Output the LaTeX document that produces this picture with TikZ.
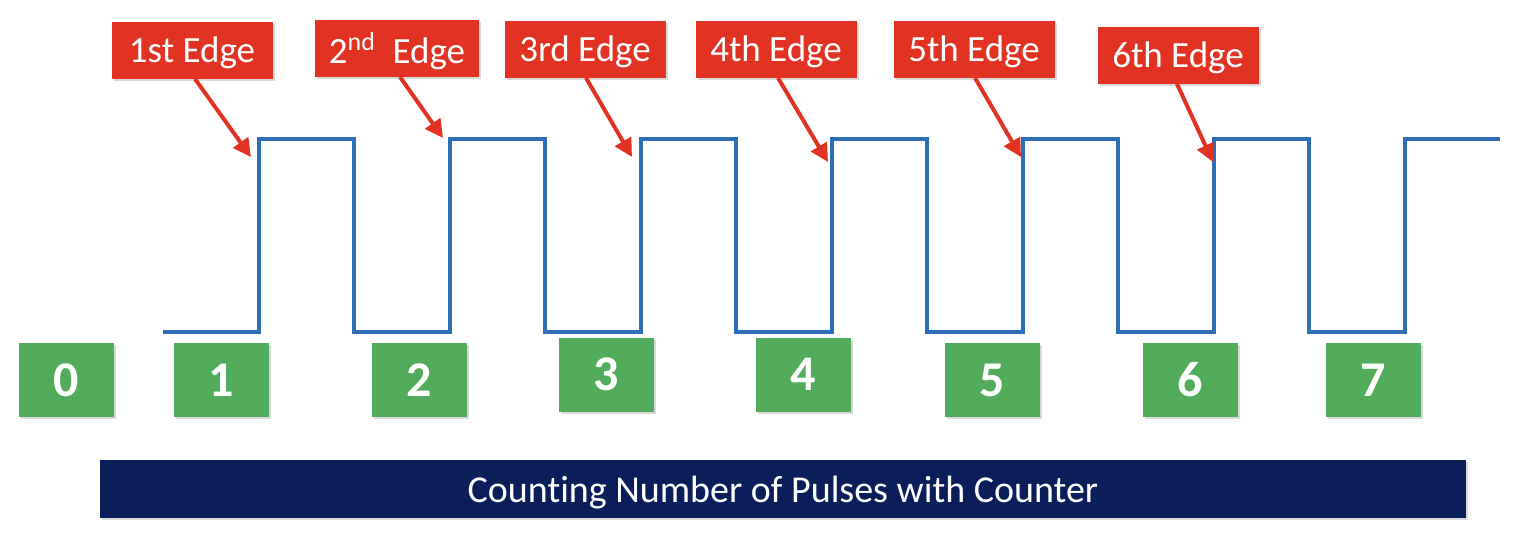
\documentclass[tikz,border=0pt]{standalone}
\usepackage{fontspec}
\setmainfont{Carlito}[Ligatures=NoCommon]
\usepackage{xcolor}
\usetikzlibrary{arrows.meta,positioning,shadows}

\definecolor{edgered}{RGB}{226,50,36}
\definecolor{countgreen}{RGB}{82,172,92}
\definecolor{bannerblue}{RGB}{11,30,90}
\definecolor{pulseblue}{RGB}{46,110,182}

\tikzset{
  edgebox/.style={rectangle,fill=edgered,text=white,inner sep=0pt,text depth=0pt,
    minimum width=80.5pt,minimum height=28.5pt,font=\fontsize{18.5}{20}\selectfont,
    drop shadow={shadow xshift=1.2pt,shadow yshift=-1.2pt,opacity=0.3}},
  countbox/.style={rectangle,fill=countgreen,text=white,inner sep=0pt,
    minimum width=47.5pt,minimum height=37pt,font=\fontsize{25}{28}\selectfont\bfseries,
    drop shadow={shadow xshift=1.2pt,shadow yshift=-1.2pt,opacity=0.3}},
  pointer/.style={draw=edgered,line width=2pt,-{Triangle[length=9pt,width=9pt]}},
  pulse/.style={draw=pulseblue,line width=1.6pt}
}

\begin{document}
\begin{tikzpicture}[x=0.5pt,y=-0.5pt]
    \useasboundingbox (0,0) rectangle (1514,538);

    % Pulse train
    \draw[pulse] (163,332) -- (259,332)
      \foreach \i in {0,...,5} {
        -- ({259+191*\i},139) -- ({354+191*\i},139)
        -- ({354+191*\i},332) -- ({450+191*\i},332)
      } -- (1405,139) -- (1500,139);

    % Edge labels
    \node[edgebox] (edge1) at (192,50) {1st Edge};
    \node[edgebox,minimum width=82pt] (edge2) at (397,48) {2\textsuperscript{nd}\ \ Edge};
    \node[edgebox] (edge3) at (585,49) {3rd Edge};
    \node[edgebox] (edge4) at (776,49) {4th Edge};
    \node[edgebox] (edge5) at (974,49) {5th Edge};
    \node[edgebox] (edge6) at (1178,55) {6th Edge};

    % Rising edge targets
    \coordinate (rise1) at (251,157);
    \coordinate (rise2) at (443,138);
    \coordinate (rise3) at (632,157);
    \coordinate (rise4) at (828,162);
    \coordinate (rise5) at (1021,157);
    \coordinate (rise6) at (1213,162);

    % Pointers
    \draw[pointer] (edge1.south) ++(3,0) -- (rise1);
    \draw[pointer] (edge2.south) ++(3,0) -- (rise2);
    \draw[pointer] (edge3.south) ++(1,0) -- (rise3);
    \draw[pointer] (edge4.south) ++(2,0) -- (rise4);
    \draw[pointer] (edge5.south) ++(1,0) -- (rise5);
    \draw[pointer] (edge6.south) ++(-1,0) -- (rise6);

    % Counter values
    \node[countbox] (count0) at (66.5,380) {0};
    \node[countbox] (count1) at (221.5,380) {1};
    \node[countbox] (count2) at (419.5,380) {2};
    \node[countbox] (count3) at (606.5,374.5) {3};
    \node[countbox] (count4) at (803.5,374.5) {4};
    \node[countbox] (count5) at (992.5,380) {5};
    \node[countbox] (count6) at (1190.5,380) {6};
    \node[countbox] (count7) at (1373.5,380) {7};

    % Caption banner
    \node[rectangle,fill=bannerblue,text=white,minimum width=683pt,minimum height=29pt,
      inner sep=0pt,text depth=0pt,font=\fontsize{19}{21}\selectfont,
      drop shadow={shadow xshift=1.2pt,shadow yshift=-1.2pt,opacity=0.3}]
      (banner) at (783,489) {Counting Number of Pulses with Counter};
\end{tikzpicture}
\end{document}
